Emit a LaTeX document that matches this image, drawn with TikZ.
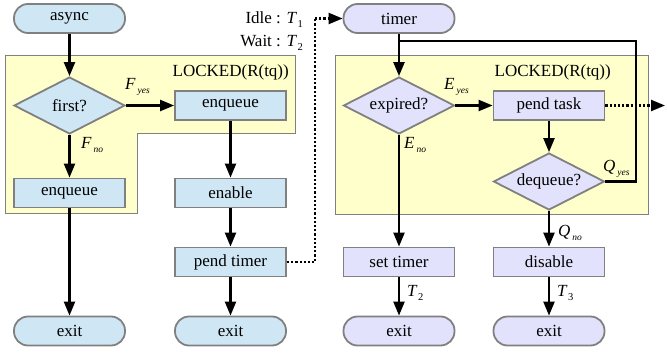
\documentclass[tikz,border=0pt]{standalone}
\usepackage{fontspec}
\setmainfont{Liberation Serif}
\usetikzlibrary{arrows.meta,shapes.geometric}

\definecolor{boxblue}{HTML}{CFE7F5}
\definecolor{boxlav}{HTML}{E2E2FC}
\definecolor{lockfill}{HTML}{FFFFCC}
\definecolor{edgegray}{HTML}{808080}

% italic symbol with a small italic (or upright) subscript
\newcommand{\sublab}[2]{{\itshape #1}\kern2pt\raisebox{-0.5ex}{\fontsize{9.5}{9.5}\selectfont\itshape #2}}
\newcommand{\subnum}[2]{{\itshape #1}\kern1.5pt\raisebox{-0.5ex}{\fontsize{10.5}{10.5}\selectfont #2}}

\tikzset{
  base/.style={draw=edgegray, line width=1.8pt, inner sep=0pt,
               font=\fontsize{17}{18}\selectfont},
  proc/.style={base, rectangle, minimum width=111pt, minimum height=29pt},
  term/.style={base, rectangle, rounded corners=14pt, minimum width=111pt, minimum height=29pt},
  decide/.style={base, diamond, aspect=1.95, minimum width=111pt, minimum height=57pt},
  blue/.style={fill=boxblue},
  lav/.style={fill=boxlav},
  tip/.style={-{Triangle[length=14pt,width=11pt]}},
  flow/.style={line width=2.2pt, tip},
  plain/.style={line width=2.2pt},
  signal/.style={line width=2.2pt, dash pattern=on 2.2pt off 2pt},
  region/.style={draw=edgegray, line width=0.7pt, fill=lockfill},
  txt/.style={font=\fontsize{17}{18}\selectfont, inner sep=1pt},
}

\begin{document}
\begin{tikzpicture}[x=1pt, y=-1pt]
\useasboundingbox (0,0) rectangle (667,353);

% locked regions
\draw[region] (5,55) -- (295,55) -- (295,133) -- (137,133) -- (137,213) -- (5,213) -- cycle;
\draw[region] (335,55) rectangle (648,214);
\node[txt, anchor=east] (lockA) at (290,72) {LOCKED(R(tq))};
\node[txt, anchor=east] (lockB) at (612,72) {LOCKED(R(tq))};

% left flow
\node[term, blue]   (async)  at (69.5,18.5)  {async};
\node[decide, blue] (first)  at (69.5,105.5) {first?};
\node[proc, blue]   (enqR)   at (230.5,105.5){enqueue};
\node[proc, blue]   (enqL)   at (69.5,193)   {enqueue};
\node[term, blue]   (exitA)  at (69.5,331)   {exit};
\node[proc, blue]   (enable) at (230.5,193)  {enable};
\node[proc, blue]   (ptimer) at (230.5,262)  {pend timer};
\node[term, blue]   (exitB)  at (230.5,331)  {exit};

\draw[flow] (async) -- (first);
\draw[flow] (first) -- (enqR);
\draw[flow] (first) -- (enqL);
\draw[flow] (enqL) -- (exitA);
\draw[flow] (enqR) -- (enable);
\draw[flow] (enable) -- (ptimer);
\draw[flow] (ptimer) -- (exitB);

\node[txt, anchor=south west] (fyes) at (124,97) {\sublab{F}{yes}};
\node[txt, anchor=north west] (fno)  at (80,136) {\sublab{F}{no}};

% right flow
\node[term, lav]   (timer)   at (399,18.5)  {timer};
\node[decide, lav] (expired) at (399,105.5) {expired?};
\node[proc, lav]   (ptask)   at (549,105.5) {pend task};
\node[decide, lav] (dequeue) at (549,181.5) {dequeue?};
\node[proc, lav]   (settimer)at (399,262)   {set timer};
\node[proc, lav]   (disable) at (549,262)   {disable};
\node[term, lav]   (exitC)   at (399,331)   {exit};
\node[term, lav]   (exitD)   at (549,331)   {exit};

\coordinate (loopR) at (636,181.5);
\coordinate (loopT) at (636,41);
\coordinate (loopL) at (399,41);
\coordinate (sigEnd) at (665,105.5);
\coordinate (sigA) at (315,262);
\coordinate (sigB) at (315,18.5);

\draw[flow] (timer) -- (expired);
\draw[flow] (expired) -- (ptask);
\draw[flow] (ptask) -- (dequeue);
\draw[flow] (expired) -- (settimer);
\draw[flow] (dequeue) -- (disable);
\draw[flow] (settimer) -- (exitC);
\draw[flow] (disable) -- (exitD);
\draw[plain] (dequeue.east) -- (loopR) -- (loopT) -- (loopL);

% signals between the two flows
\draw[signal] (ptimer.east) -- (sigA) -- (sigB);
\draw[signal, tip] (sigB) -- (timer.west);
\draw[signal, tip] (ptask.east) -- (sigEnd);

\node[txt, anchor=south west] (eyes) at (443,97)  {\sublab{E}{yes}};
\node[txt, anchor=north west] (eno)  at (403,136) {\sublab{E}{no}};
\node[txt, anchor=south west] (qyes) at (602,179) {\sublab{Q}{yes}};
\node[txt, anchor=west]       (qno)  at (557,233) {\sublab{Q}{no}};
\node[txt, anchor=west]       (t2)   at (406,293) {\subnum{T}{2}};
\node[txt, anchor=west]       (t3)   at (556,293) {\subnum{T}{3}};

\node[txt, anchor=east] (idle) at (304,20) {Idle : \subnum{T}{1}};
\node[txt, anchor=east] (wait) at (304,43) {Wait : \subnum{T}{2}};
\end{tikzpicture}
\end{document}
